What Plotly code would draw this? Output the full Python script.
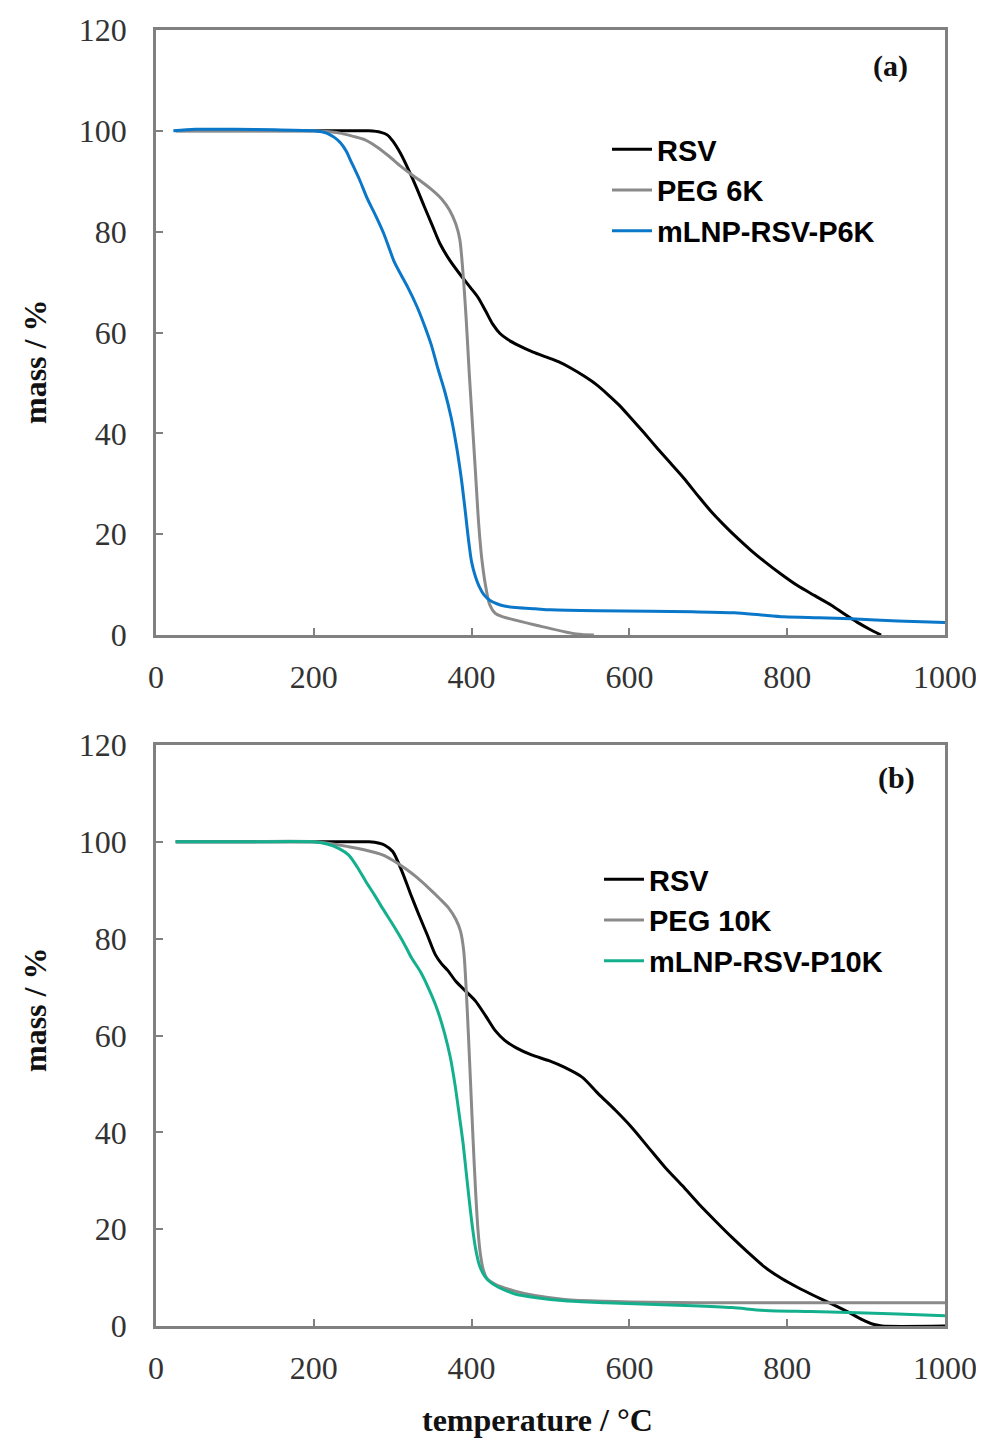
import plotly.graph_objects as go

# ---------------- data ----------------
# Panel (a)
rsv_a_x = [25, 100, 200, 250, 270, 285, 293, 300, 310, 320, 330, 340, 350, 360, 372, 385, 398, 408, 418, 427, 436, 446, 460, 478, 495, 510, 525, 542, 557, 572, 587, 601, 618, 635, 652, 669, 686, 703, 720, 737, 754, 771, 792, 813, 835, 856, 872, 889, 905, 919]
rsv_a_y = [100, 100, 100, 100, 100, 99.7, 99.2, 98, 95.5, 92.3, 88.8, 85, 81.3, 77.6, 74.4, 71.6, 69, 67, 64.2, 61.6, 59.8, 58.6, 57.4, 56.1, 55.1, 54.2, 53, 51.4, 49.8, 47.8, 45.6, 43.2, 40.2, 37.1, 34.1, 31.1, 27.8, 24.6, 21.8, 19.2, 16.8, 14.6, 12.1, 9.8, 7.8, 5.9, 4.2, 2.5, 1.1, 0]

peg6_x = [25, 100, 200, 220, 235, 250, 265, 280, 295, 310, 325, 340, 352, 362, 372, 380, 385, 389, 393, 397, 401, 405, 409, 413, 418, 423, 430, 440, 483, 533, 555]
peg6_y = [100, 100, 100, 99.8, 99.5, 98.9, 98.2, 96.8, 95, 93, 91.2, 89.5, 88, 86.5, 84.3, 81.5, 78.5, 72, 63, 52, 42, 32, 22, 15, 9.5, 6, 4.3, 3.6, 1.9, 0.2, 0]

p6k_x = [22, 50, 100, 150, 200, 210, 217, 226, 234, 241, 247, 258, 268, 279, 289, 296, 302, 310, 319, 330, 340, 349, 357, 366, 374, 381, 387, 392, 396, 400, 405, 410, 416, 423, 432, 443, 460, 481, 500, 560, 627, 680, 733, 765, 796, 840, 881, 940, 1000]
p6k_y = [100, 100.3, 100.3, 100.2, 100, 99.8, 99.5, 98.7, 97.6, 96, 94, 90.3, 86.5, 83, 79.5, 76.5, 74, 71.6, 69, 65.4, 61.5, 57.5, 53, 48.3, 43.2, 37.3, 31, 24.5, 19, 14.5, 11.5, 9.5, 7.9, 6.9, 6.2, 5.7, 5.4, 5.2, 5.0, 4.8, 4.7, 4.6, 4.4, 4.0, 3.6, 3.4, 3.2, 2.8, 2.5]

# Panel (b)
rsv_b_x = [25, 100, 200, 250, 270, 283, 290, 300, 312, 322, 333, 344, 354, 362, 370, 380, 396, 405, 418, 430, 442, 456, 476, 498, 518, 540, 561, 582, 603, 624, 645, 667, 688, 709, 730, 751, 772, 793, 814, 835, 857, 878, 899, 910, 920, 1000]
rsv_b_y = [100, 100, 100, 100, 100, 99.7, 99.3, 98, 93.8, 89.5, 85, 80.7, 76.7, 74.8, 73.4, 71.2, 68.6, 67.1, 64, 61, 59, 57.5, 56, 54.8, 53.4, 51.4, 47.9, 44.6, 41, 36.9, 32.8, 29, 25.2, 21.7, 18.3, 15.1, 12.1, 9.8, 7.9, 6.2, 4.5, 2.8, 1, 0.3, 0, 0]

peg10_x = [25, 100, 200, 244, 265, 287, 300, 316, 331, 346, 360, 371, 380, 386, 390, 393, 396, 399, 402, 405, 408, 411, 415, 420, 430, 455, 480, 518, 570, 624, 730, 1000]
peg10_y = [100, 100, 100, 99, 98.3, 97.3, 96.2, 94.5, 92.6, 90.4, 88.2, 86.3, 84, 81.5, 77.5, 70, 60, 49, 38, 28, 20, 15, 11.5, 9.7, 8.6, 7.2, 6.3, 5.5, 5.1, 4.9, 4.8, 4.8]

p10k_x = [25, 100, 200, 218, 232, 244, 255, 266, 277, 287, 298, 308, 316, 324, 335, 345, 356, 366, 373, 379, 384, 389, 393, 397, 401, 405, 410, 417, 425, 434, 445, 455, 480, 518, 570, 624, 680, 730, 772, 830, 878, 940, 1000]
p10k_y = [100, 100, 100, 99.5, 98.6, 97.3, 94.8, 91.8, 89, 86.3, 83.5, 80.8, 78.5, 76, 73.2, 69.9, 65.6, 60.3, 55.5, 49.8, 44, 38, 32, 26, 20.5, 16, 12.5, 10.2, 8.9, 8, 7.2, 6.6, 5.9, 5.2, 4.8, 4.5, 4.2, 3.8, 3.2, 3.0, 2.8, 2.5, 2.1]

names_a = ["RSV", "PEG 6K", "mLNP-RSV-P6K"]
names_b = ["RSV", "PEG 10K", "mLNP-RSV-P10K"]
x_ticks = [0, 200, 400, 600, 800, 1000]
y_ticks = [0, 20, 40, 60, 80, 100, 120]

# ---------------- style ----------------
C_BLACK = "#000000"
C_GRAY = "#8a8a8a"
C_BLUE = "#0a77c9"
C_TEAL = "#14b08e"
LW = 3
SERIF = "Liberation Serif"
SANS = "Liberation Sans"

fig = go.Figure()

def add(x, y, name, color, xa, ya, legend):
    fig.add_trace(go.Scatter(
        x=x, y=y, name=name, mode="lines",
        line=dict(color=color, width=LW, shape="spline", smoothing=0.8),
        xaxis=xa, yaxis=ya, legend=legend))

add(rsv_a_x, rsv_a_y, names_a[0], C_BLACK, "x", "y", "legend")
add(peg6_x, peg6_y, names_a[1], C_GRAY, "x", "y", "legend")
add(p6k_x, p6k_y, names_a[2], C_BLUE, "x", "y", "legend")

add(rsv_b_x, rsv_b_y, names_b[0], C_BLACK, "x2", "y2", "legend2")
add(peg10_x, peg10_y, names_b[1], C_GRAY, "x2", "y2", "legend2")
add(p10k_x, p10k_y, names_b[2], C_TEAL, "x2", "y2", "legend2")

axis_common = dict(
    showline=True, linecolor="#808080", linewidth=2.5, mirror=True,
    ticks="inside", ticklen=7, tickwidth=2, tickcolor="#808080",
    showgrid=False, zeroline=False, automargin=False,
    tickfont=dict(family=SERIF, size=32, color="#333333"),
)

# the page body has an 8px margin; the figure is sized to compensate
OFF = 8
W, H = 984 - OFF, 1443 - OFF
ML, MR, MT, MB = 156 - OFF, 39, 30 - OFF, 117
plot_w = W - ML - MR
plot_h = H - MT - MB

def px_x(px):
    return (px - OFF - ML) / plot_w

def px_y(py):
    return (H - MB - (py - OFF)) / plot_h

legend_font = dict(family=SANS, size=29, color="#000000", weight="bold")

fig.update_layout(
    width=W, height=H,
    margin=dict(l=ML, r=MR, t=MT, b=MB, autoexpand=False),
    paper_bgcolor="white", plot_bgcolor="white",
    xaxis=dict(axis_common, domain=[0, 1], range=[0, 1000], tickvals=x_ticks,
               anchor="y", ticklabelstandoff=12),
    yaxis=dict(axis_common, domain=[px_y(635), px_y(30)], range=[0, 120], tickvals=y_ticks,
               anchor="x", ticklabelstandoff=20),
    xaxis2=dict(axis_common, domain=[0, 1], range=[0, 1000], tickvals=x_ticks,
                anchor="y2", ticklabelstandoff=12),
    yaxis2=dict(axis_common, domain=[px_y(1326), px_y(745)], range=[0, 120], tickvals=y_ticks,
                anchor="x2", ticklabelstandoff=20),
    legend=dict(x=px_x(607), y=px_y(124),
                xanchor="left", yanchor="top", bgcolor="rgba(0,0,0,0)",
                font=legend_font, tracegroupgap=0, itemwidth=40),
    legend2=dict(x=px_x(599), y=px_y(854),
                 xanchor="left", yanchor="top", bgcolor="rgba(0,0,0,0)",
                 font=legend_font, tracegroupgap=0, itemwidth=40),
    showlegend=True,
)

ann_font = dict(family=SERIF, size=32, color="#111111")

def ann(text, px, py, angle=0, font=ann_font):
    fig.add_annotation(text=text, textangle=angle, x=px_x(px), y=px_y(py),
                       xref="paper", yref="paper", showarrow=False,
                       xanchor="center", yanchor="middle", font=font)

ann("<b>mass / %</b>", 35, 362, angle=-90)
ann("<b>mass / %</b>", 35, 1010, angle=-90)
ann("<b>temperature / °C</b>", 537, 1420)
ann("<b>(a)</b>", 890, 66, font=dict(family=SERIF, size=30, color="#111111"))
ann("<b>(b)</b>", 896, 778, font=dict(family=SERIF, size=30, color="#111111"))

fig.write_html("out.html")
